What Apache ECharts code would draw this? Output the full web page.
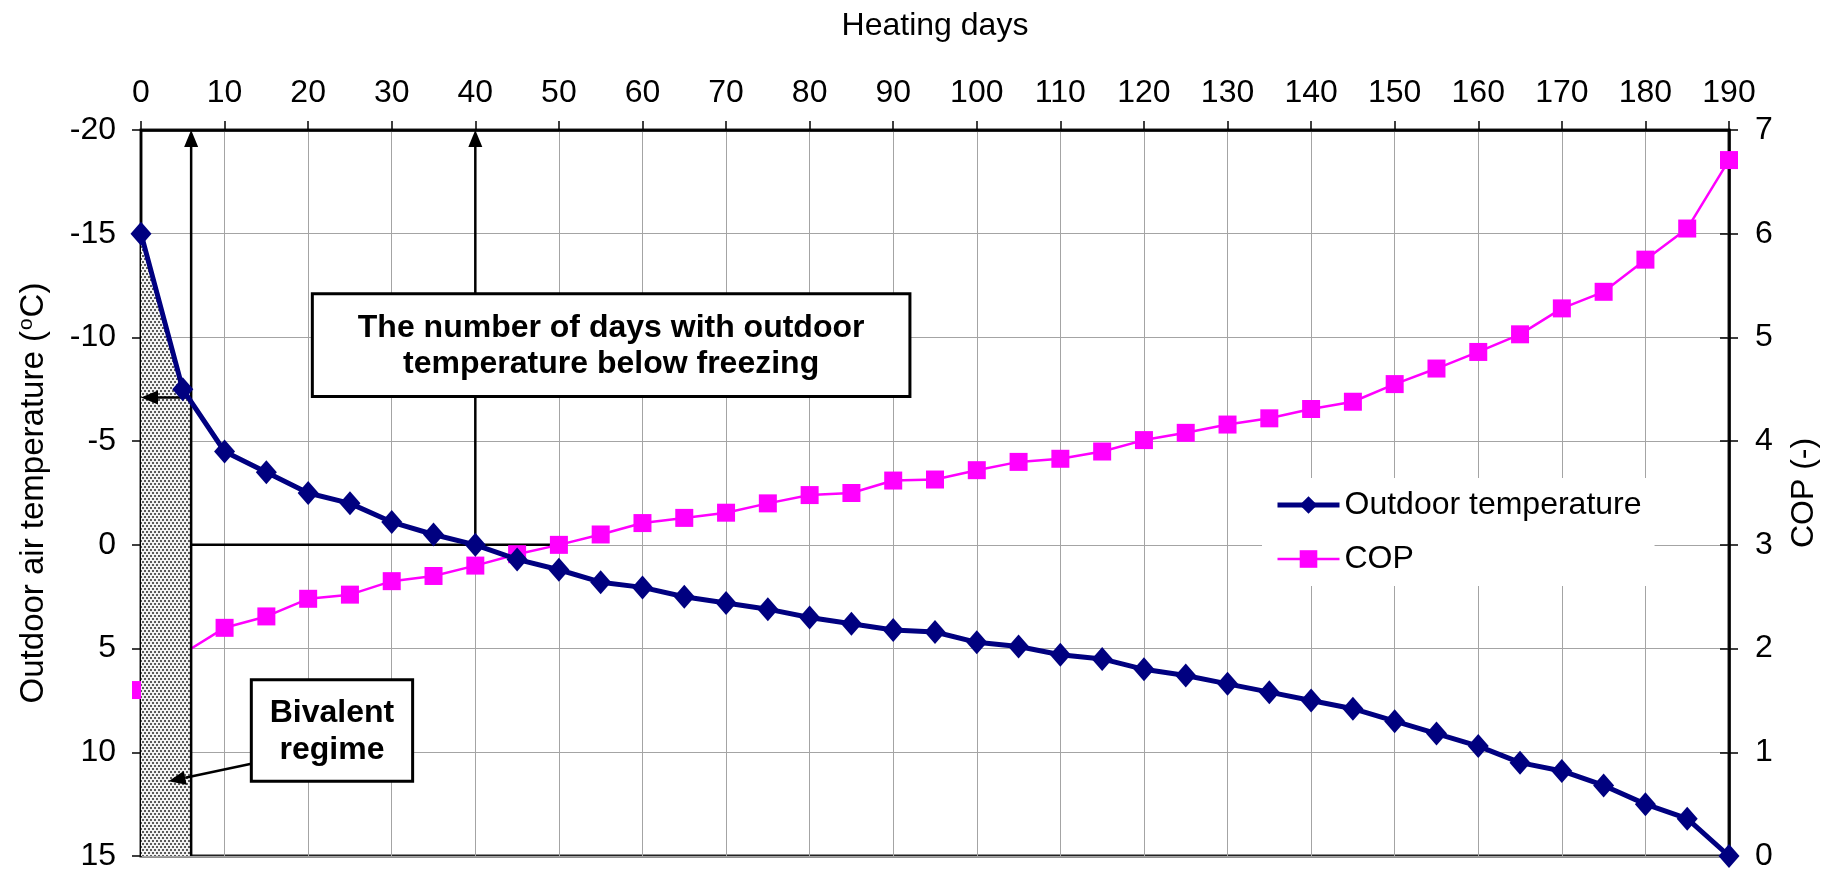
<!DOCTYPE html>
<html>
<head>
<meta charset="utf-8">
<title>Outdoor temperature and COP over the heating season</title>
<script src="https://cdn.jsdelivr.net/npm/echarts@6/dist/echarts.min.js"></script>
<style>
  html, body { margin: 0; padding: 0; background: #fff; }
  #main { width: 1835px; height: 872px; }
</style>
</head>
<body>
<div id="main"></div>
<script>
// Heating days sampled every 5 days
const days = [0, 5, 10, 15, 20, 25, 30, 35, 40, 45, 50, 55, 60, 65, 70, 75, 80, 85, 90, 95,
  100, 105, 110, 115, 120, 125, 130, 135, 140, 145, 150, 155, 160, 165, 170, 175, 180, 185, 190];

// Outdoor air temperature (°C), sorted from coldest to warmest day
const outdoorTemp = [-15, -7.5, -4.5, -3.5, -2.5, -2.0, -1.1, -0.5, 0, 0.7, 1.2, 1.8, 2.05, 2.5, 2.8, 3.1,
  3.5, 3.8, 4.1, 4.2, 4.7, 4.9, 5.3, 5.5, 6.0, 6.3, 6.7, 7.1, 7.5, 7.9, 8.5, 9.1, 9.7, 10.5,
  10.9, 11.6, 12.5, 13.2, 15];

// Heat pump coefficient of performance (-)
const cop = [1.6, 1.95, 2.2, 2.31, 2.48, 2.52, 2.65, 2.7, 2.8, 2.91, 3.0, 3.1, 3.21, 3.26, 3.31, 3.4,
  3.48, 3.5, 3.62, 3.63, 3.72, 3.8, 3.83, 3.9, 4.01, 4.08, 4.16, 4.22, 4.31, 4.38, 4.55, 4.7,
  4.86, 5.03, 5.28, 5.44, 5.75, 6.05, 6.71];

// Bivalent regime: the first days, down to the bivalent temperature
const bivalentDay = 6;
const bivalentTemp = -7.1;
const freezingDay = 40;

const FONT = '"Liberation Sans", Arial, Helvetica, sans-serif';

// Stippled fill for the bivalent area
function makeStipple() {
  const c = document.createElement('canvas');
  c.width = 4; c.height = 6;
  const g = c.getContext('2d');
  g.fillStyle = '#f2f2f2';
  g.fillRect(0, 0, 4, 6);
  g.fillStyle = '#5a5a5a';
  g.fillRect(0, 0, 2, 2);
  g.fillRect(2, 3, 2, 2);
  return c;
}
const stipple = makeStipple();

// Temperature curve up to the bivalent day, closed down to the axis bottom
function bivalentOutline() {
  const pts = [];
  for (let i = 0; i < days.length; i++) {
    if (days[i] <= bivalentDay) pts.push([days[i], outdoorTemp[i]]);
    else {
      const d0 = days[i - 1], t0 = outdoorTemp[i - 1];
      const f = (bivalentDay - d0) / (days[i] - d0);
      if (f > 0) pts.push([bivalentDay, t0 + f * (outdoorTemp[i] - t0)]);
      break;
    }
  }
  pts.push([bivalentDay, 15], [0, 15]);
  return pts;
}

// Annotation arrows: [fromDay, fromTemp, toDay, toTemp]; the head sits at "to"
const arrowsBack = [
  [freezingDay, 0, freezingDay, -20],
  [50, 0, 0, 0]
];
const arrowsFront = [
  [bivalentDay, 15, bivalentDay, -20],
  [bivalentDay, bivalentTemp, 0, bivalentTemp],
  [13.2, 10.55, 3.3, 11.4]
];

// Text boxes: [day1, temp1, day2, temp2]
const boxes = [
  [20.5, -12.1, 92, -7.15],
  [13.2, 6.5, 32.5, 11.4]
];
const boxTexts = [
  'The number of days with outdoor\ntemperature below freezing',
  'Bivalent\nregime'
];

function renderArrow(params, api) {
  const p1 = api.coord([api.value(0), api.value(1)]);
  const p2 = api.coord([api.value(2), api.value(3)]);
  const dx = p2[0] - p1[0], dy = p2[1] - p1[1];
  const len = Math.hypot(dx, dy);
  const ux = dx / len, uy = dy / len;
  const headL = 17, headW = 7;
  const bx = p2[0] - ux * headL, by = p2[1] - uy * headL;
  return {
    type: 'group',
    children: [
      { type: 'line', shape: { x1: p1[0], y1: p1[1], x2: bx, y2: by },
        style: { stroke: '#000', lineWidth: 2.5 } },
      { type: 'polygon',
        shape: { points: [[p2[0], p2[1]], [bx - uy * headW, by + ux * headW], [bx + uy * headW, by - ux * headW]] },
        style: { fill: '#000' } }
    ]
  };
}

function renderBox(params, api) {
  const a = api.coord([api.value(0), api.value(1)]);
  const b = api.coord([api.value(2), api.value(3)]);
  const x = Math.min(a[0], b[0]), y = Math.min(a[1], b[1]);
  const w = Math.abs(b[0] - a[0]), h = Math.abs(b[1] - a[1]);
  return {
    type: 'group',
    children: [
      { type: 'rect', shape: { x: x, y: y, width: w, height: h },
        style: { fill: '#fff', stroke: '#000', lineWidth: 3 } },
      { type: 'text',
        style: { text: boxTexts[params.dataIndex], x: x + w / 2, y: y + h / 2 + 1,
          align: 'center', verticalAlign: 'middle', fontFamily: FONT, fontWeight: 'bold',
          fontSize: 32, lineHeight: 36.5, fill: '#000' } }
    ]
  };
}

function renderBivalentArea(params, api) {
  const pts = bivalentOutline().map(p => api.coord(p));
  return {
    type: 'polygon', shape: { points: pts },
    style: { fill: { image: stipple, repeat: 'repeat' }, stroke: 'none' }
  };
}

const tempData = days.map((d, i) => [d, outdoorTemp[i]]);
const copData = days.map((d, i) => [d, cop[i]]);

const chart = echarts.init(document.getElementById('main'), null, { renderer: 'canvas' });

chart.setOption({
  animation: false,
  backgroundColor: '#fff',
  textStyle: { fontFamily: FONT },
  grid: {
    left: 141, right: 106, top: 130, bottom: 14,
    show: true, borderColor: '#222', borderWidth: 3, backgroundColor: 'transparent'
  },
  legend: {
    data: [
      { name: 'Outdoor temperature', lineStyle: { width: 5 } },
      { name: 'COP', lineStyle: { width: 2.5 } }
    ],
    orient: 'vertical',
    left: 1262, top: 478,
    padding: [11, 13, 11, 13],
    itemGap: 22, itemWidth: 62, itemHeight: 22,
    backgroundColor: '#fff',
    textStyle: { fontSize: 32, color: '#000', lineHeight: 32, fontFamily: FONT }
  },
  xAxis: [{
    type: 'value', position: 'top', min: 0, max: 190, interval: 10,
    name: 'Heating days', nameLocation: 'middle', nameGap: 88,
    nameTextStyle: { fontSize: 32, color: '#000', fontFamily: FONT },
    axisLine: { show: true, onZero: false, lineStyle: { color: '#000', width: 2.5 } },
    axisTick: { show: true, length: 9, lineStyle: { color: '#000', width: 1.5 } },
    axisLabel: { fontSize: 32, color: '#000', margin: 21, fontFamily: FONT },
    splitLine: { show: true, lineStyle: { color: '#a4a4a4', width: 1 } }
  }],
  yAxis: [{
    type: 'value', position: 'left', inverse: true, min: -20, max: 15, interval: 5,
    name: '{t|Outdoor air temperature (}{s|o}{t|C)}',
    nameLocation: 'middle', nameRotate: 90, nameGap: 90,
    nameTextStyle: {
      color: '#000',
      rich: {
        t: { fontSize: 33, lineHeight: 35, fontFamily: FONT, color: '#000' },
        s: { fontSize: 21, lineHeight: 35, fontFamily: FONT, color: '#000', verticalAlign: 'top', padding: [0, 1, 0, 1] }
      }
    },
    axisLine: { show: true, onZero: false, lineStyle: { color: '#000', width: 2 } },
    axisTick: { show: true, length: 9, lineStyle: { color: '#000', width: 1.5 } },
    axisLabel: { fontSize: 32, color: '#000', margin: 25, fontFamily: FONT },
    splitLine: { show: true, lineStyle: { color: '#a4a4a4', width: 1 } }
  }, {
    type: 'value', position: 'right', min: 0, max: 7, interval: 1,
    name: 'COP (-)', nameLocation: 'middle', nameRotate: 90, nameGap: 59,
    nameTextStyle: { fontSize: 32, color: '#000', fontFamily: FONT },
    axisLine: { show: true, onZero: false, lineStyle: { color: '#000', width: 2.5 } },
    axisTick: { show: true, length: 9, lineStyle: { color: '#000', width: 1.5 } },
    axisLabel: { fontSize: 32, color: '#000', margin: 26, fontFamily: FONT },
    splitLine: { show: false }
  }, {
    // inner half of the crossing ticks on the COP axis
    type: 'value', position: 'right', offset: 0, min: 0, max: 7, interval: 1,
    axisLine: { show: false, onZero: false },
    axisTick: { show: true, inside: true, length: 9, lineStyle: { color: '#000', width: 1.5 } },
    axisLabel: { show: false },
    splitLine: { show: false }
  }],
  series: [{
    name: 'COP', type: 'line', yAxisIndex: 1, z: 3,
    data: copData,
    symbol: 'rect', symbolSize: 18,
    itemStyle: { color: '#ff00ff' },
    lineStyle: { color: '#ff00ff', width: 2.5 }
  }, {
    name: 'bivalent-area', type: 'custom', yAxisIndex: 0, z: 4,
    data: [[0, 0]],
    renderItem: renderBivalentArea,
    silent: true
  }, {
    name: 'arrows-back', type: 'custom', yAxisIndex: 0, z: 2,
    data: arrowsBack,
    encode: { x: [0, 2], y: [1, 3] },
    renderItem: renderArrow,
    silent: true
  }, {
    name: 'arrows-front', type: 'custom', yAxisIndex: 0, z: 5,
    data: arrowsFront,
    encode: { x: [0, 2], y: [1, 3] },
    renderItem: renderArrow,
    silent: true
  }, {
    name: 'Outdoor temperature', type: 'line', yAxisIndex: 0, z: 6,
    data: tempData,
    symbol: 'diamond', symbolSize: [21, 24],
    itemStyle: { color: '#000080' },
    lineStyle: { color: '#000080', width: 5 }
  }, {
    name: 'boxes', type: 'custom', yAxisIndex: 0, z: 7,
    data: boxes,
    encode: { x: [0, 2], y: [1, 3] },
    renderItem: renderBox,
    silent: true
  }]
});
</script>
</body>
</html>
